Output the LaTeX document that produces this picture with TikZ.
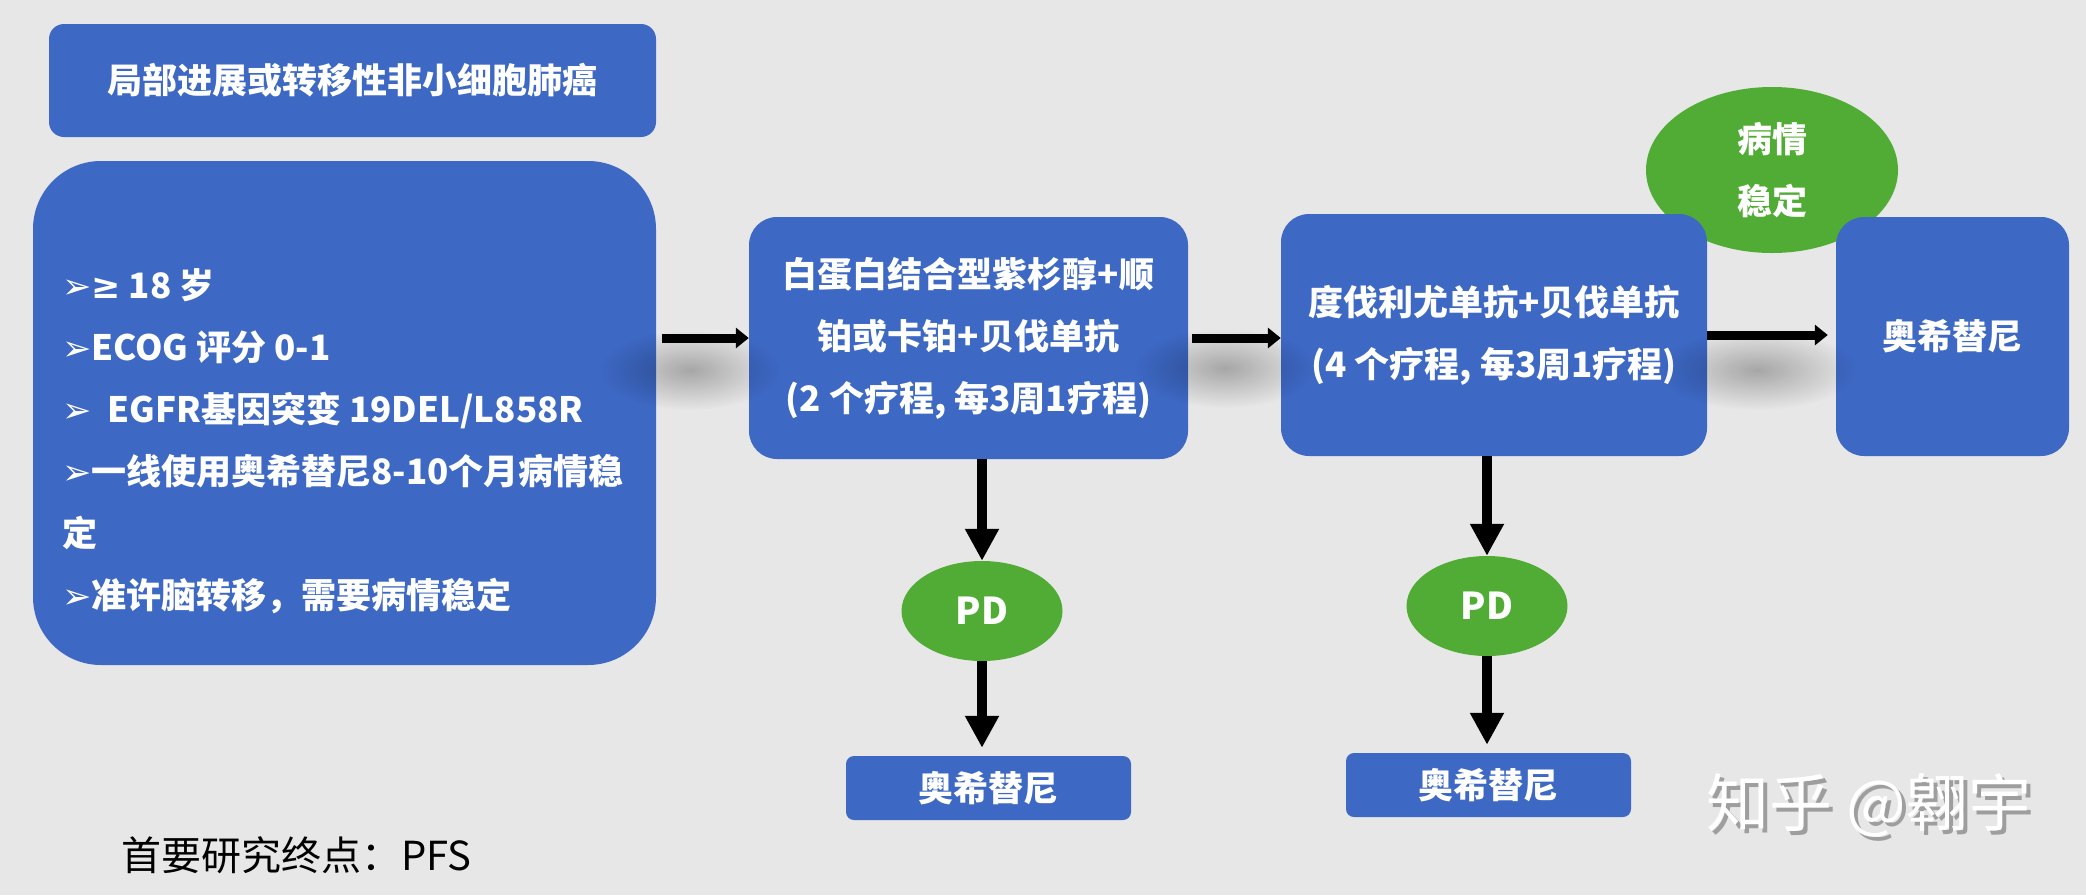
\documentclass[tikz,border=0pt]{standalone}
\usepackage{fontspec}
\usetikzlibrary{shapes.geometric,arrows.meta,fadings}
\newfontfamily\cjk{Noto Sans CJK SC}
\newfontfamily\dvs{DejaVu Sans}
\definecolor{bg}{HTML}{E7E7E7}
\definecolor{boxblue}{HTML}{3D68C4}
\definecolor{okgreen}{HTML}{50AC34}
\newcommand{\bul}{{\dvs\bfseries ➢}}
\newcommand{\geqsym}{{\dvs\bfseries ≥}}
\tikzfading[name=softblob, inner color=transparent!0, outer color=transparent!100]
\begin{document}
\begin{tikzpicture}[x=1pt,y=-1pt,
  boxtext/.style={font=\cjk\bfseries\fontsize{35}{62}\selectfont, text=white, align=center},
  bluebox/.style={boxtext, fill=boxblue, rounded corners=#1, inner sep=0pt},
  greenoval/.style={boxtext, ellipse, fill=okgreen, inner sep=0pt},
  harrow/.style={line width=9pt, -{Triangle[width=20pt,length=13pt]}},
  varrow/.style={line width=10pt, -{Triangle[width=32pt,length=32pt]}},
  shadowblob/.style={fill=black, opacity=0.28, path fading=softblob}
]
\useasboundingbox (0,0) rectangle (2086,895);
\fill[bg] (0,0) rectangle (2086,895);

% top oval behind the boxes
\node[greenoval, minimum width=252pt, minimum height=166pt] (sd) at (1772,170) {病情\\稳定};

% boxes
\node[bluebox=15pt, minimum width=607pt, minimum height=113pt] (title) at (352.5,80.5) {局部进展或转移性非小细胞肺癌};
\node[bluebox=68pt, minimum width=623pt, minimum height=504pt] (big) at (344.5,413) {};
\node[boxtext, anchor=west, align=left, inner sep=0pt, fill=none] (crit) at (62,441.5)
  {\bul\geqsym\ 18 岁\\
   \bul ECOG 评分 0-1\\
   \bul\ \ EGFR基因突变 19DEL/L858R\\
   \bul 一线使用奥希替尼8-10个月病情稳\\
   定\\
   \bul 准许脑转移，需要病情稳定};
\node[bluebox=28pt, minimum width=439pt, minimum height=242pt] (box2) at (968.5,338)
  {白蛋白结合型紫杉醇+顺\\铂或卡铂+贝伐单抗\\(2 个疗程, 每3周1疗程)};
\node[bluebox=28pt, minimum width=426pt, minimum height=242pt] (box3) at (1494,335)
  {度伐利尤单抗+贝伐单抗\\(4 个疗程, 每3周1疗程)};
\node[bluebox=28pt, minimum width=233pt, minimum height=239pt] (box4) at (1952.5,336.5) {奥希替尼};

\node[greenoval, minimum width=161pt, minimum height=100pt, font=\cjk\bfseries\fontsize{37}{44}\selectfont] (pd1) at (982,611) {PD};
\node[greenoval, minimum width=161pt, minimum height=100pt, font=\cjk\bfseries\fontsize{37}{44}\selectfont] (pd2) at (1487,606) {PD};

\node[bluebox=8pt, minimum width=285pt, minimum height=64pt] (ob1) at (988.5,788) {奥希替尼};
\node[bluebox=8pt, minimum width=285pt, minimum height=64pt] (ob2) at (1488.5,785) {奥希替尼};

% soft shadows under the horizontal arrows
\fill[shadowblob] (690,370) ellipse [x radius=90pt, y radius=40pt];
\fill[shadowblob] (1225,368) ellipse [x radius=90pt, y radius=40pt];
\fill[shadowblob] (1757,370) ellipse [x radius=100pt, y radius=40pt];

% connectors
\draw[harrow, shorten <=6pt] (big.east |- box2.west) -- (box2.west);
\draw[harrow, shorten <=4pt] (box2.east) -- (box2.east -| box3.west);
\draw[harrow, shorten >=8pt] (box3.east) -- (box3.east -| box4.west);
\draw[varrow] (box2.south -| pd1.north) -- (pd1.north);
\draw[varrow, shorten >=8pt] (pd1.south) -- (pd1.south |- ob1.north);
\draw[varrow] (box3.south -| pd2.north) -- (pd2.north);
\draw[varrow, shorten >=8pt] (pd2.south) -- (pd2.south |- ob2.north);

% footnote and watermark
\node[anchor=west, inner sep=0pt, font=\cjk\fontsize{40}{46}\selectfont, text=black] (endpoint) at (121,855) {首要研究终点：PFS};
\node[inner sep=0pt, font=\cjk\fontsize{63}{70}\selectfont, text=black!38] (wmshadow) at (1873,809) {知乎 @翱宇};
\node[inner sep=0pt, font=\cjk\fontsize{63}{70}\selectfont, text=white] (wm) at (1869,805) {知乎 @翱宇};
\end{tikzpicture}
\end{document}
